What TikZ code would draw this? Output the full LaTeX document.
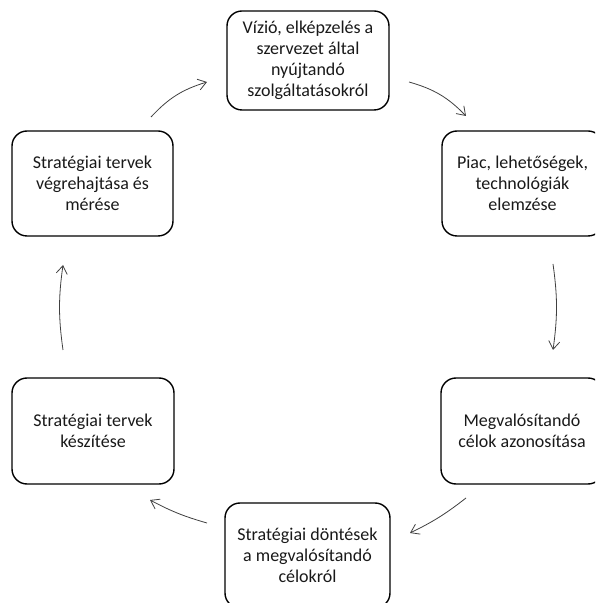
\documentclass[tikz,border=0pt]{standalone}
\usepackage{fontspec}
\setmainfont{Carlito}
\usetikzlibrary{arrows.meta}
\begin{document}
\begin{tikzpicture}[x=1pt,y=1pt,
  stage/.style={draw=black, line width=1.4pt, rounded corners=15pt,
    align=center, inner sep=0pt, font=\fontsize{18}{21}\selectfont,
    text=black!90},
  flow/.style={draw=black!75, line width=0.8pt,
    -{Straight Barb[length=8pt,width=11pt,line width=0.8pt]}}]
\useasboundingbox (0,0) rectangle (595,603);
\begin{scope}
\clip (0,0) rectangle (595,603);
% the six stages of the cycle
\node[stage, minimum width=162pt, minimum height=99pt] (vision) at (308,542.5)
  {Vízió, elképzelés a\\szervezet  által\\nyújtandó\\szolgáltatásokról};
\node[stage, minimum width=161pt, minimum height=105pt] (market) at (522.5,419.5)
  {Piac, lehetőségek,\\technológiák\\elemzése};
\node[stage, minimum width=162pt, minimum height=106pt] (goals) at (522,172)
  {Megvalósítandó\\célok azonosítása};
\node[stage, minimum width=165pt, minimum height=105pt] (decide) at (307.5,47.5)
  {Stratégiai döntések\\a megvalósítandó\\célokról};
\node[stage, minimum width=162pt, minimum height=106pt] (plan) at (93,172)
  {Stratégiai tervek\\készítése};
\node[stage, minimum width=161pt, minimum height=105pt] (exec) at (92.5,419.5)
  {Stratégiai tervek\\végrehajtása és\\mérése};
\end{scope}
% arrow end points in the gaps between the stages
\coordinate (v-out) at (409,521);  \coordinate (m-in) at (466,487);
\coordinate (m-out) at (553,339);  \coordinate (g-in) at (553,253);
\coordinate (g-out) at (466,105);  \coordinate (d-in) at (410,70);
\coordinate (d-out) at (207,80);   \coordinate (p-in) at (150,103);
\coordinate (p-out) at (63,253);   \coordinate (e-in) at (63,338);
\coordinate (e-out) at (151,486);  \coordinate (v-in) at (207,521);
% clockwise flow
\draw[flow] (v-out) to[bend left=15] (m-in);
\draw[flow] (m-out) to[bend left=8] (g-in);
\draw[flow] (g-out) to[bend left=6] (d-in);
\draw[flow] (d-out) to[bend left=6] (p-in);
\draw[flow] (p-out) to[bend left=8] (e-in);
\draw[flow] (e-out) to[bend left=15] (v-in);
\end{tikzpicture}
\end{document}
